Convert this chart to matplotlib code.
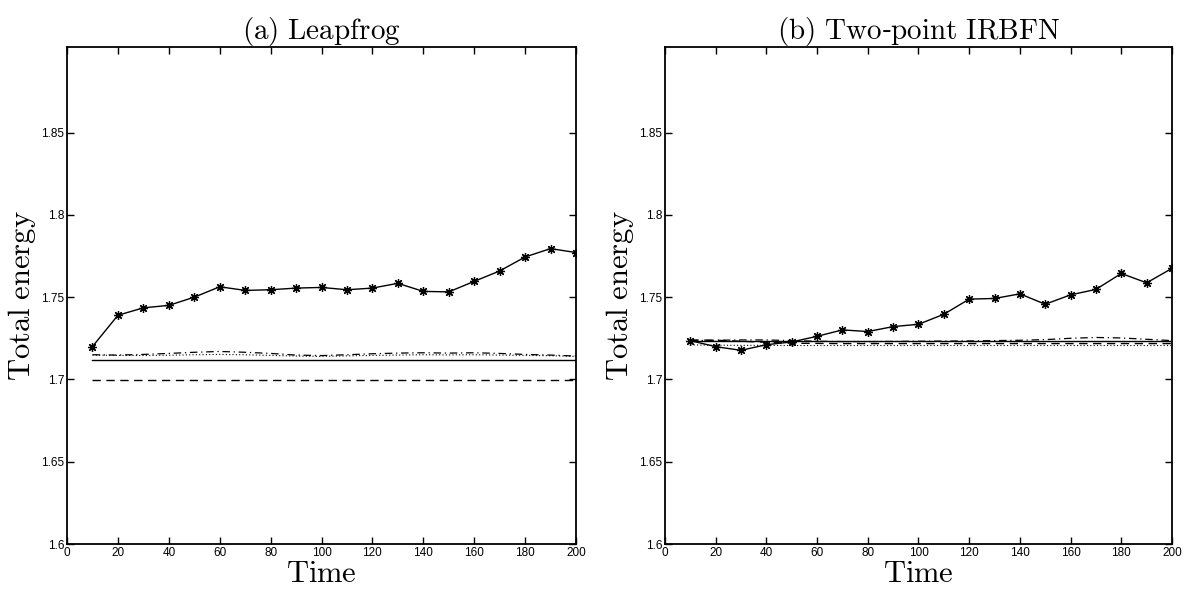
import matplotlib
matplotlib.use("Agg")
import matplotlib.pyplot as plt
import numpy as np

plt.rcParams['mathtext.fontset'] = 'cm'
plt.rcParams['font.family'] = ['Liberation Sans', 'DejaVu Sans']

time = [10, 20, 30, 40, 50, 60, 70, 80, 90, 100, 110, 120, 130, 140, 150, 160, 170, 180, 190, 200]

# (a) Leapfrog
lf_star = [1.720, 1.739, 1.7435, 1.745, 1.750, 1.7563, 1.7541, 1.7545, 1.7555, 1.7559,
           1.7545, 1.7555, 1.7584, 1.7535, 1.7532, 1.7596, 1.7659, 1.7744, 1.7795, 1.7771]
lf_solid = [1.7118] * 20
lf_dashed = [1.6998] * 20
lf_dashdot = [1.7150, 1.7148, 1.7152, 1.7158, 1.7165, 1.7170, 1.7165, 1.7158, 1.7148, 1.7145,
              1.7150, 1.7156, 1.7160, 1.7162, 1.7160, 1.7162, 1.7158, 1.7152, 1.7148, 1.7142]
lf_dotted = [1.7148, 1.7146, 1.7145, 1.7147, 1.7150, 1.7152, 1.7150, 1.7146, 1.7142, 1.7140,
             1.7143, 1.7146, 1.7148, 1.7150, 1.7149, 1.7150, 1.7148, 1.7146, 1.7144, 1.7140]

# (b) Two-point IRBFN
ir_star = [1.7236, 1.7199, 1.7177, 1.7211, 1.7228, 1.7262, 1.7301, 1.7291, 1.7321, 1.7335,
           1.7396, 1.7488, 1.7492, 1.7520, 1.7457, 1.7514, 1.7547, 1.7644, 1.7587, 1.7675]
ir_solid = [1.7234] * 20
ir_dashed = [1.7240, 1.7238, 1.7232, 1.7226, 1.7220, 1.7219, 1.7218, 1.7218, 1.7218, 1.7218,
             1.7218, 1.7218, 1.7218, 1.7218, 1.7218, 1.7218, 1.7218, 1.7218, 1.7218, 1.7218]
ir_dashdot = [1.7236, 1.7238, 1.7240, 1.7240, 1.7236, 1.7232, 1.7230, 1.7230, 1.7231, 1.7232,
              1.7233, 1.7234, 1.7236, 1.7238, 1.7242, 1.7250, 1.7255, 1.7252, 1.7244, 1.7236]
ir_dotted = [1.7210, 1.7208, 1.7207, 1.7207, 1.7206, 1.7206, 1.7206, 1.7206, 1.7206, 1.7206,
             1.7206, 1.7206, 1.7206, 1.7206, 1.7206, 1.7206, 1.7206, 1.7206, 1.7206, 1.7206]

titles = [r'$\mathrm{(a)\ Leapfrog}$', r'$\mathrm{(b)\ Two}$-$\mathrm{point\ IRBFN}$']
xticks = [0, 20, 40, 60, 80, 100, 120, 140, 160, 180, 200]
yticks = [1.6, 1.65, 1.7, 1.75, 1.8, 1.85]
ytick_labels = ['1.6', '1.65', '1.7', '1.75', '1.8', '1.85']

fig = plt.figure(figsize=(11.93, 5.98), dpi=100)
axes = [fig.add_axes([0.0562, 0.0903, 0.4266, 0.8311]),
        fig.add_axes([0.5574, 0.0903, 0.4250, 0.8311])]

panels = [
    (lf_star, lf_solid, lf_dashed, lf_dashdot, lf_dotted),
    (ir_star, ir_solid, ir_dashed, ir_dashdot, ir_dotted),
]

for ax, (star, solid, dashed, dashdot, dotted), title in zip(axes, panels, titles):
    ax.plot(time, solid, color='black', lw=1.0, ls='-')
    ax.plot(time, dashed, color='black', lw=1.0, ls=(0, (6, 4)))
    ax.plot(time, dashdot, color='black', lw=0.9, ls=(0, (6, 3, 1, 3)))
    ax.plot(time, dotted, color='black', lw=0.8, ls=(0, (1, 2)))
    ax.plot(time, star, color='black', lw=1.0, marker=(8, 2, 0), markersize=6.5,
            markeredgewidth=0.9)
    ax.set_xlim(0, 200)
    ax.set_ylim(1.6, 1.902)
    ax.set_xticks(xticks)
    ax.set_yticks(yticks)
    ax.set_yticklabels(ytick_labels)
    ax.tick_params(direction='in', top=True, right=True, labelsize=8.5, length=5,
                   width=1.0, pad=2)
    for s in ax.spines.values():
        s.set_linewidth(1.3)
    ax.set_title(title, fontsize=21, pad=6)
    ax.set_xlabel(r'$\mathrm{Time}$', fontsize=22, labelpad=0)
    ax.set_ylabel(r'$\mathrm{Total\ energy}$', fontsize=22, labelpad=2)

fig.savefig('out.png', dpi=100)
